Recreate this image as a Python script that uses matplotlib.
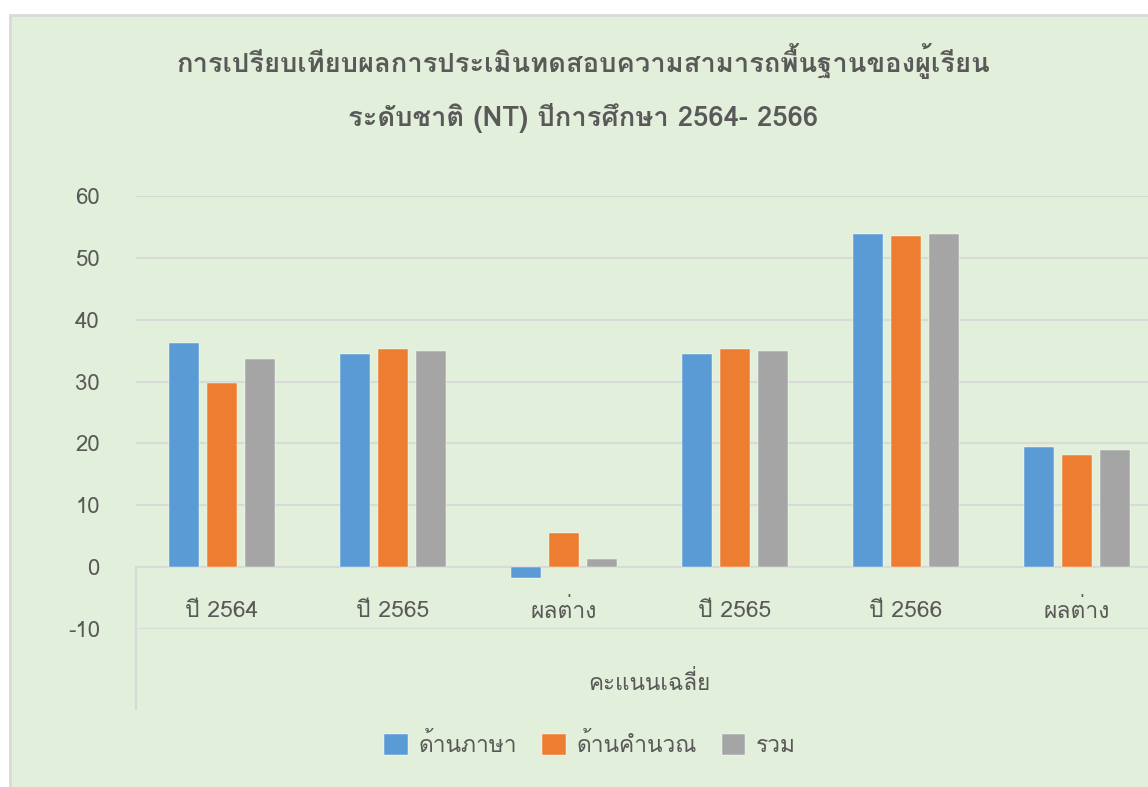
import matplotlib
matplotlib.use("Agg")
import matplotlib.pyplot as plt
import numpy as np

categories = ["ปี 2564", "ปี 2565", "ผลต่าง", "ปี 2565", "ปี 2566", "ผลต่าง"]
series_names = ["ด้านภาษา", "ด้านคำนวณ", "รวม"]
lang = [36.2, 34.5, -1.7, 34.5, 53.9, 19.4]
math_ = [29.8, 35.3, 5.5, 35.3, 53.5, 18.2]
total = [33.7, 35.0, 1.3, 35.0, 53.9, 18.9]
colors = ["#5b9bd5", "#ed7d31", "#a5a5a5"]

bg = "#e2efda"
txt = "#595959"
plt.rcParams["font.family"] = ["Loma", "DejaVu Sans"]
plt.rcParams["axes.unicode_minus"] = False

fig = plt.figure(figsize=(11.48, 7.87), dpi=100)
fig.patch.set_facecolor("white")
# chart area with border on the top/left (cropped on the other sides)
fig.patches.append(plt.Rectangle((10 / 1148, -0.1), 1.2, (787 - 15) / 787 + 0.1, transform=fig.transFigure,
                                 facecolor=bg, edgecolor="#d9d9d9", lw=2, zorder=-10))

ax = fig.add_axes([136 / 1148, (787 - 629) / 787, (1162 - 136) / 1148, (629 - 196) / 787])
ax.patch.set_alpha(0)
x = np.arange(len(categories))
w = 30 / 171
pitch = 38 / 171
for i, vals in enumerate([lang, math_, total]):
    ax.bar(x + (i - 1) * pitch, vals, w, color=colors[i], label=series_names[i], zorder=3,
           edgecolor="white", linewidth=0.3)

ax.set_xlim(-0.5, 5.5)
ax.set_ylim(-10, 60)
ax.set_yticks(range(-10, 61, 10))
ax.yaxis.grid(True, color="#d9d9d9", lw=1.5)
ax.set_axisbelow(True)
for s in ax.spines.values():
    s.set_visible(False)
ax.axhline(0, color="#d9d9d9", lw=1.5, zorder=2)
ax.tick_params(axis="y", length=0, labelsize=16, labelcolor=txt, pad=26)
ax.set_xticks([])
for xi, c in zip(x, categories):
    ax.text(xi, -7.1, c, ha="center", va="center", fontsize=16.5, color=txt)
# multi-level category axis separator
ax.plot([-0.5, -0.5], [0, -23], color="#d9d9d9", lw=1.5, clip_on=False)
ax.text(0.5, -(683 - 629) / 433, "คะแนนเฉลี่ย", transform=ax.transAxes, ha="center", va="center",
        fontsize=16.2, color=txt)

fig.text(583 / 1148, 1 - 61 / 787, "การเปรียบเทียบผลการประเมินทดสอบความสามารถพื้นฐานของผู้เรียน",
         ha="center", va="center", fontsize=19.7, fontweight="bold", color=txt)
fig.text(583 / 1148, 1 - 118 / 787, "ระดับชาติ (NT) ปีการศึกษา 2564- 2566",
         ha="center", va="center", fontsize=19.7, fontweight="bold", color=txt)

fig.legend(loc="center", bbox_to_anchor=(590 / 1148, 1 - 745 / 787), ncol=3, frameon=False,
           fontsize=16.4, labelcolor=txt, handlelength=1.05, handleheight=1.05,
           handletextpad=0.45, columnspacing=1.1)

fig.savefig("out.png", dpi=100)
